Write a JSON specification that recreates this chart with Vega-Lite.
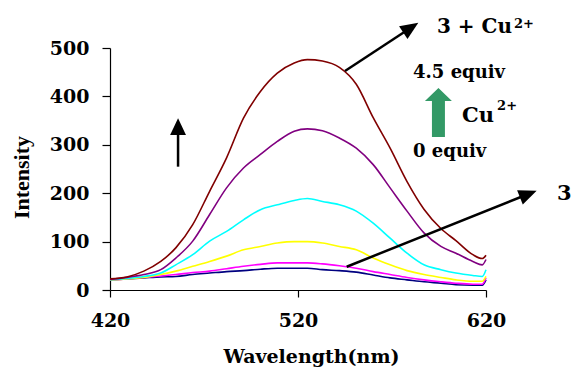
{
  "$schema": "https://vega.github.io/schema/vega-lite/v6.json",
  "autosize": {"type": "none"},
  "width": 376,
  "height": 242,
  "padding": {"left": 110, "top": 48, "right": 87, "bottom": 80},
  "background": "white",
  "config": {"view": {"stroke": null}},
  "layer": [
    {
      "data": {"values": [
        {"wl": 420, "s1": 21, "s2": 21, "s3": 21, "s4": 21, "s5": 22, "s6": 23},
        {"wl": 429, "s1": 23, "s2": 23, "s3": 23, "s4": 24, "s5": 26, "s6": 27},
        {"wl": 438, "s1": 25, "s2": 26, "s3": 26, "s4": 28, "s5": 32, "s6": 39},
        {"wl": 447, "s1": 27, "s2": 29, "s3": 32, "s4": 35, "s5": 42, "s6": 59},
        {"wl": 455, "s1": 28, "s2": 32, "s3": 39, "s4": 52, "s5": 66, "s6": 87},
        {"wl": 464, "s1": 32, "s2": 36, "s3": 49, "s4": 73, "s5": 101, "s6": 135},
        {"wl": 473, "s1": 35, "s2": 39, "s3": 59, "s4": 101, "s5": 156, "s6": 204},
        {"wl": 482, "s1": 38, "s2": 44, "s3": 70, "s4": 121, "s5": 211, "s6": 273},
        {"wl": 491, "s1": 40, "s2": 49, "s3": 83, "s4": 145, "s5": 252, "s6": 355},
        {"wl": 500, "s1": 43, "s2": 53, "s3": 90, "s4": 166, "s5": 280, "s6": 410},
        {"wl": 509, "s1": 45, "s2": 56, "s3": 97, "s4": 176, "s5": 307, "s6": 448},
        {"wl": 518, "s1": 45, "s2": 56, "s3": 100, "s4": 185, "s5": 328, "s6": 469},
        {"wl": 525, "s1": 45, "s2": 56, "s3": 100, "s4": 189, "s5": 333, "s6": 476},
        {"wl": 533, "s1": 42, "s2": 54, "s3": 97, "s4": 183, "s5": 329, "s6": 473},
        {"wl": 542, "s1": 40, "s2": 50, "s3": 90, "s4": 176, "s5": 314, "s6": 460},
        {"wl": 551, "s1": 37, "s2": 45, "s3": 83, "s4": 163, "s5": 293, "s6": 425},
        {"wl": 560, "s1": 31, "s2": 38, "s3": 66, "s4": 138, "s5": 259, "s6": 356},
        {"wl": 569, "s1": 25, "s2": 32, "s3": 52, "s4": 107, "s5": 211, "s6": 293},
        {"wl": 578, "s1": 21, "s2": 26, "s3": 40, "s4": 76, "s5": 163, "s6": 224},
        {"wl": 587, "s1": 17, "s2": 21, "s3": 32, "s4": 52, "s5": 118, "s6": 167},
        {"wl": 596, "s1": 14, "s2": 17, "s3": 26, "s4": 42, "s5": 90, "s6": 127},
        {"wl": 604, "s1": 11, "s2": 14, "s3": 21, "s4": 35, "s5": 76, "s6": 102},
        {"wl": 613, "s1": 10, "s2": 12, "s3": 18, "s4": 30, "s5": 59, "s6": 73},
        {"wl": 618, "s1": 10, "s2": 12, "s3": 18, "s4": 28, "s5": 52, "s6": 65},
        {"wl": 620, "s1": 21, "s2": 25, "s3": 28, "s4": 42, "s5": 63, "s6": 72}
      ]},
      "transform": [{"fold": ["s1", "s2", "s3", "s4", "s5", "s6"], "as": ["series", "intensity"]}],
      "mark": {"type": "line", "strokeWidth": 1.6, "interpolate": "monotone"},
      "encoding": {
        "x": {
          "field": "wl", "type": "quantitative",
          "scale": {"domain": [420, 620], "nice": false, "zero": false},
          "axis": {
            "values": [420, 520, 620], "grid": false, "labelFlush": false,
            "domainColor": "black", "tickColor": "black", "tickSize": 7, "domainWidth": 1.2, "tickWidth": 1.2,
            "labelFont": "DejaVu Serif", "labelFontWeight": "bold", "labelFontSize": 19, "labelColor": "black", "labelPadding": 14,
            "title": "Wavelength(nm)", "titleFont": "DejaVu Serif", "titleFontWeight": "bold", "titleFontSize": 19, "titleColor": "black",
            "titleX": 201, "titleY": 72, "titleBaseline": "alphabetic"
          }
        },
        "y": {
          "field": "intensity", "type": "quantitative",
          "scale": {"domain": [0, 500], "nice": false},
          "axis": {
            "values": [0, 50, 100, 150, 200, 250, 300, 350, 400, 450, 500], "grid": false, "labelOverlap": false,
            "domainColor": "black", "tickColor": "black", "tickSize": 8, "domainWidth": 1.2, "tickWidth": 1.2,
            "labelFont": "DejaVu Serif", "labelFontWeight": "bold", "labelFontSize": 19, "labelColor": "black", "labelPadding": 13,
            "title": "Intensity", "titleFont": "Liberation Serif", "titleFontWeight": "bold", "titleFontSize": 22, "titleColor": "black",
            "titleX": -82, "titleY": 129, "titleBaseline": "alphabetic", "titleAlign": "center", "titleAngle": -90
          }
        },
        "color": {
          "field": "series", "type": "nominal",
          "scale": {"domain": ["s1", "s2", "s3", "s4", "s5", "s6"], "range": ["#000080", "#FF00FF", "#FFFF00", "#00FFFF", "#800080", "#800000"]},
          "legend": null
        },
        "order": {"field": "series"}
      }
    },
    {
      "data": {"values": [{}]},
      "mark": {"type": "rule", "color": "black", "strokeWidth": 2.5},
      "encoding": {"x": {"datum": 545}, "y": {"datum": 452.5}, "x2": {"datum": 580}, "y2": {"datum": 541.9}}
    },
    {
      "data": {"values": [{}]},
      "mark": {"type": "point", "shape": "M0,-1L-0.85,1L0.85,1Z", "filled": true, "color": "black", "opacity": 1, "size": 324, "angle": 56.6, "strokeWidth": 0},
      "encoding": {"x": {"datum": 580}, "y": {"datum": 541.9}}
    },
    {
      "data": {"values": [{}]},
      "mark": {"type": "rule", "color": "black", "strokeWidth": 2.5},
      "encoding": {"x": {"datum": 545.9}, "y": {"datum": 48.1}, "x2": {"datum": 642.5}, "y2": {"datum": 198.3}}
    },
    {
      "data": {"values": [{}]},
      "mark": {"type": "point", "shape": "M0,-1L-0.85,1L0.85,1Z", "filled": true, "color": "black", "opacity": 1, "size": 324, "angle": 68.2, "strokeWidth": 0},
      "encoding": {"x": {"datum": 642.5}, "y": {"datum": 198.3}}
    },
    {
      "data": {"values": [{}]},
      "mark": {"type": "rule", "color": "black", "strokeWidth": 2.5},
      "encoding": {"x": {"datum": 456.2}, "y": {"datum": 254.8}, "y2": {"datum": 332}}
    },
    {
      "data": {"values": [{}]},
      "mark": {"type": "point", "shape": "M0,-1L-0.95,1L0.95,1Z", "filled": true, "color": "black", "opacity": 1, "size": 279, "angle": 0, "strokeWidth": 0},
      "encoding": {"x": {"datum": 456.2}, "y": {"datum": 337.4}}
    },
    {
      "data": {"values": [{}]},
      "mark": {"type": "point", "shape": "M0,-1L0.55,-0.47L0.265,-0.47L0.265,1L-0.265,1L-0.265,-0.47L-0.55,-0.47Z", "filled": true, "color": "#339966", "opacity": 1, "size": 2401, "strokeWidth": 0},
      "encoding": {"x": {"datum": 594.7}, "y": {"datum": 366.7}}
    },
    {
      "data": {"values": [{"label": "3 + Cu", "wl": 593.9, "v": 531}]},
      "mark": {"type": "text", "font": "DejaVu Serif", "fontWeight": "bold", "fontSize": 20, "align": "left", "baseline": "alphabetic", "color": "black"},
      "encoding": {"x": {"field": "wl", "type": "quantitative"}, "y": {"field": "v", "type": "quantitative"}, "text": {"field": "label"}}
    },
    {
      "data": {"values": [{"label": "2+", "wl": 634.9, "v": 541.3}, {"label": "2+", "wl": 625.9, "v": 371.9}]},
      "mark": {"type": "text", "font": "DejaVu Serif", "fontWeight": "bold", "fontSize": 13, "align": "left", "baseline": "alphabetic", "color": "black"},
      "encoding": {"x": {"field": "wl", "type": "quantitative"}, "y": {"field": "v", "type": "quantitative"}, "text": {"field": "label"}}
    },
    {
      "data": {"values": [{"label": "4.5 equiv", "wl": 581.2, "v": 438}, {"label": "0 equiv", "wl": 581.2, "v": 274.8}]},
      "mark": {"type": "text", "font": "DejaVu Serif", "fontWeight": "bold", "fontSize": 18, "align": "left", "baseline": "alphabetic", "color": "black"},
      "encoding": {"x": {"field": "wl", "type": "quantitative"}, "y": {"field": "v", "type": "quantitative"}, "text": {"field": "label"}}
    },
    {
      "data": {"values": [{"label": "Cu", "wl": 607.2, "v": 347.1}, {"label": "3", "wl": 657.8, "v": 186}]},
      "mark": {"type": "text", "font": "DejaVu Serif", "fontWeight": "bold", "fontSize": 21, "align": "left", "baseline": "alphabetic", "color": "black"},
      "encoding": {"x": {"field": "wl", "type": "quantitative"}, "y": {"field": "v", "type": "quantitative"}, "text": {"field": "label"}}
    }
  ]
}
